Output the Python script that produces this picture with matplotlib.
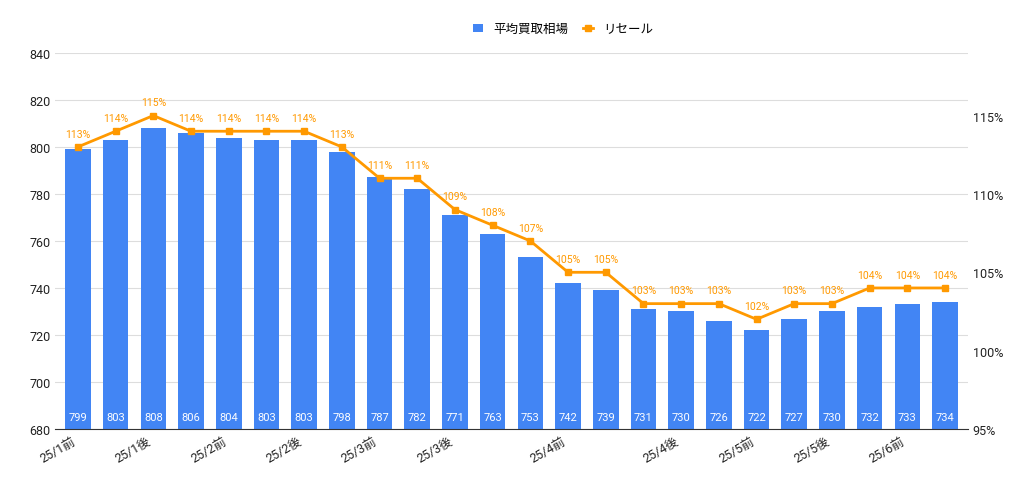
import matplotlib.pyplot as plt
from matplotlib.ticker import FuncFormatter

plt.rcParams['font.family'] = ['Roboto', 'Noto Sans CJK JP']

prices = [799, 803, 808, 806, 804, 803, 803, 798, 787, 782, 771, 763, 753, 742,
          739, 731, 730, 726, 722, 727, 730, 732, 733, 734]
resale = [113, 114, 115, 114, 114, 114, 114, 113, 111, 111, 109, 108, 107, 105,
          105, 103, 103, 103, 102, 103, 103, 104, 104, 104]
tick_pos = [0, 2, 4, 6, 8, 10, 13, 16, 18, 20, 22]
tick_labels = ['25/1前', '25/1後', '25/2前', '25/2後', '25/3前', '25/3後',
               '25/4前', '25/4後', '25/5前', '25/5後', '25/6前']

blue = '#4285f4'
orange = '#ff9900'

fig = plt.figure(figsize=(10.24, 4.81), dpi=100)
ax = fig.add_axes([0.054, 0.106, 0.891, 0.782])
x = list(range(len(prices)))
bars = ax.bar(x, prices, width=0.68, color=blue, label='平均買取相場', zorder=2)
ax.set_ylim(680, 840)
ax.set_yticks(range(680, 841, 20))
ax.set_xlim(-0.6, len(prices) - 0.4)
ax.grid(axis='y', color='#dddddd', lw=0.8, zorder=0)
for s in ax.spines.values():
    s.set_visible(False)
ax.spines['bottom'].set_visible(True)
ax.spines['bottom'].set_color('#333333')
ax.tick_params(axis='both', length=0, labelsize=9, colors='#222222')
ax.set_xticks(tick_pos)
ax.set_xticklabels(tick_labels, rotation=30, ha='right', fontsize=9)
for xi, v in zip(x, prices):
    ax.text(xi, 683, str(v), color='white', ha='center', va='bottom', fontsize=8)

ax2 = ax.twinx()
ax2.plot(x, resale, color=orange, lw=2, marker='s', ms=5, label='リセール', zorder=3)
ax2.set_ylim(95, 95 + 160 / 376 * 376 / 78.3 * 5 * 376 / 160 * 160 / 376)
ax2.set_ylim(95, 119)
ax2.set_yticks([95, 100, 105, 110, 115])
ax2.yaxis.set_major_formatter(FuncFormatter(lambda v, p: f'{v:.0f}%'))
ax2.tick_params(axis='y', length=0, labelsize=9, colors='#222222')
for s in ax2.spines.values():
    s.set_visible(False)
for xi, v in zip(x, resale):
    ax2.annotate(f'{v}%', (xi, v), xytext=(0, 6), textcoords='offset points',
                 ha='center', va='bottom', fontsize=7.5, color=orange)

h1, l1 = ax.get_legend_handles_labels()
h2, l2 = ax2.get_legend_handles_labels()
fig.legend(h1 + h2, l1 + l2, loc='upper center', bbox_to_anchor=(0.55, 0.975),
           ncol=2, frameon=False, fontsize=9, handlelength=0.8, columnspacing=1.2)

fig.savefig('out.png', dpi=100)
